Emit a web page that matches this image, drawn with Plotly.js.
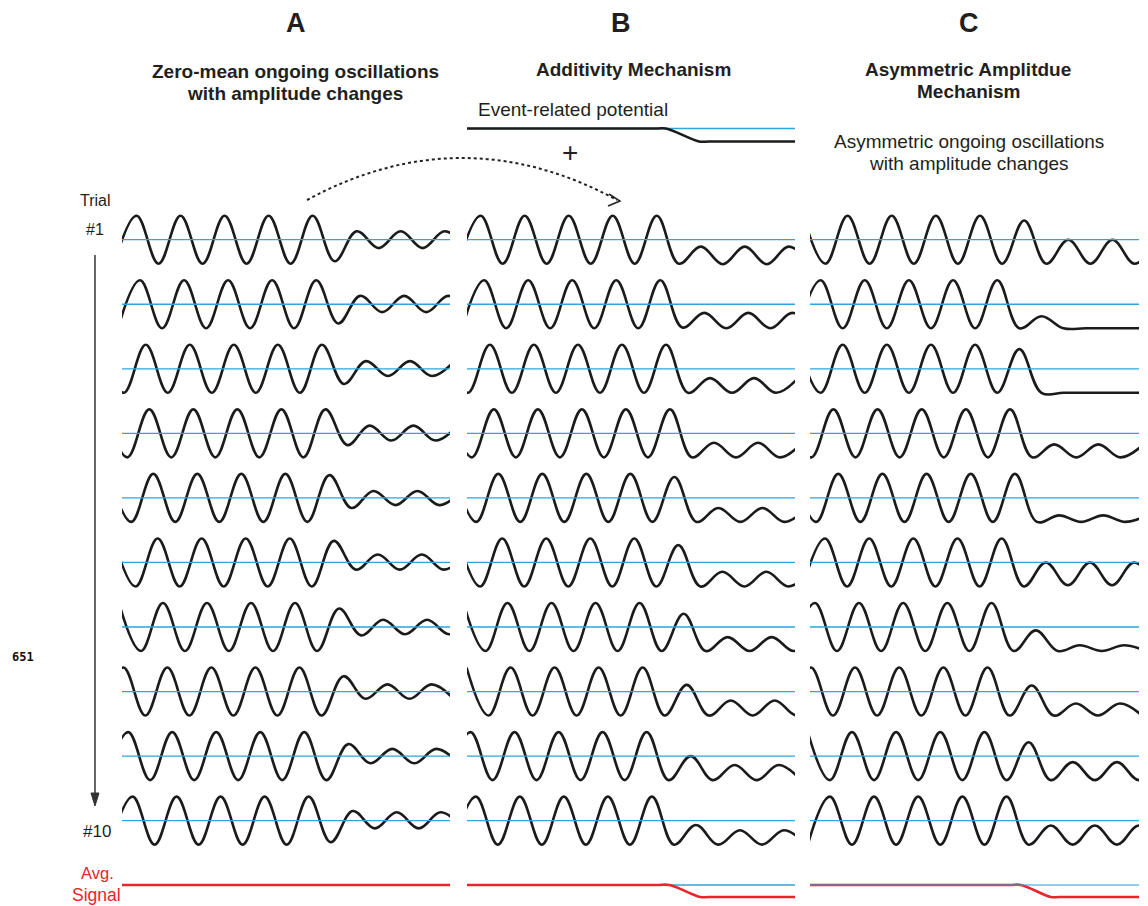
<!DOCTYPE html>
<html><head><meta charset="utf-8">
<script src="https://cdn.plot.ly/plotly-3.0.1.min.js"></script>
<style>html,body{margin:0;padding:0;background:#fff}#chart{width:1148px;height:906px}</style>
</head><body><div id="chart"></div>
<script>
// ---------------- DATA ----------------
const panelLetters = ['A', 'B', 'C'];
const panelTitleLines = [
  ['Zero-mean ongoing oscillations', 'with amplitude changes'],
  ['Additivity Mechanism'],
  ['Asymmetric Amplitdue', 'Mechanism']
];
const trialFirstLabel = '#1';
const trialLastLabel = '#10';

// time (in oscillation periods) of the first listed extremum of each trial
const startA = [-0.17, -0.09, -0.46, -0.38, -0.29, -0.19, -0.07, -0.47, -0.36, -0.26];
const startB = [-0.19, -0.11, -0.48, -0.39, -0.29, -0.20, -0.08, -0.01, -0.42, -0.30];
const startC = [-0.15, -0.26, -0.26, -0.47, -0.36, -0.16, -0.39, -0.48, -0.05, -0.05];

// successive peak / trough values (one every half period), in units of the large amplitude
const extremaA = [
  [-1, 1, -1, 1, -1, 1, -1, 1, -1, 1, -0.9, 0.35, -0.35, 0.35, -0.35, 0.35, -0.35],
  [-1, 1, -1, 1, -1, 1, -1, 1, -1, 1, -0.8, 0.35, -0.33, 0.35, -0.33, 0.35, -0.33],
  [1, -1, 1, -1, 1, -1, 1, -1, 1, -1, 1, -0.63, 0.32, -0.3, 0.32, -0.3, 0.3],
  [1, -1, 1, -1, 1, -1, 1, -1, 1, -1, 1, -0.49, 0.32, -0.3, 0.32, -0.3, 0.32],
  [1, -1, 1, -1, 1, -1, 1, -1, 1, -1, 0.95, -0.42, 0.29, -0.3, 0.29, -0.3, 0.29],
  [1, -1, 1, -1, 1, -1, 1, -1, 1, -1, 0.9, -0.3, 0.33, -0.3, 0.33, -0.3, 0.33],
  [1, -1, 1, -1, 1, -1, 1, -1, 1, -1, 0.77, -0.35, 0.3, -0.3, 0.3, -0.3, 0.3],
  [-1, 1, -1, 1, -1, 1, -1, 1, -1, 1, -1, 0.64, -0.3, 0.3, -0.3, 0.3, -0.3],
  [-1, 1, -1, 1, -1, 1, -1, 1, -1, 1, -1, 0.5, -0.3, 0.3, -0.3, 0.3, -0.3],
  [-1, 1, -1, 1, -1, 1, -1, 1, -1, 1, -0.9, 0.4, -0.32, 0.35, -0.32, 0.35, -0.32]
];
const extremaB = [
  [-1, 1, -1, 1, -1, 1, -1, 1, -1, 1, -1, -0.29, -1.02, -0.29, -1.02, -0.29, -1.02],
  [-1, 1, -1, 1, -1, 1, -1, 1, -1, 1, -0.97, -0.36, -1, -0.36, -1, -0.36, -1],
  [1, -1, 1, -1, 1, -1, 1, -1, 1, -1, 1, -1, -0.39, -1, -0.39, -1, -0.39],
  [1, -1, 1, -1, 1, -1, 1, -1, 1, -1, 1, -1, -0.39, -1, -0.39, -1, -0.39],
  [1, -1, 1, -1, 1, -1, 1, -1, 1, -1, 0.87, -1, -0.42, -1, -0.42, -1, -0.42],
  [1, -1, 1, -1, 1, -1, 1, -1, 1, -1, 0.72, -1, -0.39, -1, -0.39, -1, -0.39],
  [1, -1, 1, -1, 1, -1, 1, -1, 1, -1, 0.55, -1, -0.42, -1, -0.42, -1, -0.42],
  [1, -1, 1, -1, 1, -1, 1, -1, 1, -1, 0.28, -1, -0.37, -1, -0.37, -1, -0.37],
  [-1, 1, -1, 1, -1, 1, -1, 1, -1, 1, -1, 0, -1, -0.37, -1, -0.37, -1],
  [-1, 1, -1, 1, -1, 1, -1, 1, -1, 1, -1, -0.18, -1, -0.4, -1, -0.4, -1]
];
const extremaC = [
  [1, -1, 1, -1, 1, -1, 1, -1, 1, -1, 0.8, -1, 0, -1, 0, -1, 0],
  [-1, 1, -1, 1, -1, 1, -1, 1, -1, 1, -1, -0.5, -1, -1, -1, -1, -1],
  [1, -1, 1, -1, 1, -1, 1, -1, 1, -1, 0.82, -1, -1, -1, -1, -1, -1],
  [1, -1, 1, -1, 1, -1, 1, -1, 1, -1, 1, -1, -0.46, -1, -0.46, -1, -0.5],
  [1, -1, 1, -1, 1, -1, 1, -1, 1, -1, 1, -1, -0.73, -1, -0.73, -1, -0.73],
  [-1, 1, -1, 1, -1, 1, -1, 1, -1, 1, -1, 0, -0.95, 0, -0.95, 0, -0.95],
  [-1, 1, -1, 1, -1, 1, -1, 1, -1, 1, -1, -0.14, -1, -0.76, -1, -0.76, -1],
  [-1, 1, -1, 1, -1, 1, -1, 1, -1, 1, -1, 0.25, -1, -0.5, -1, -0.5, -1],
  [1, -1, 1, -1, 1, -1, 1, -1, 1, -1, 0.58, -1, -0.25, -1, -0.25, -1, -0.25],
  [-1, 1, -1, 1, -1, 1, -1, 1, -1, 1, -1, -0.2, -1, -0.2, -1, -0.2, -1]
];

// event-related potential (panel B header) and averaged signals
const erpTime = [0, 4.3, 4.52, 5.27, 5.5, 7.45];
const erpValue = [0, 0, 0, -0.54, -0.54, -0.54];
const avgTimeA = [0, 7.45];
const avgValueA = [0, 0];
const avgTimeB = [0, 4.3, 4.6, 5.3, 5.5, 7.45];
const avgValueB = [0, 0, 0, -0.5, -0.5, -0.5];
const avgTimeC = [0, 4.5, 4.78, 5.45, 5.65, 7.45];
const avgValueC = [0, 0, 0, -0.5, -0.5, -0.5];

// ---------------- LAYOUT CONSTANTS ----------------
const W = 1148, H = 906;
const AMP = 24;            // pixels per amplitude unit
const BASE0 = 239.7;       // pixel row of trial #1 baseline
const ROWGAP = 64.55;      // pixels between trial baselines
const T_END = 7.45;        // periods visible per panel
const HALF = 0.5;          // spacing between extrema (half period)
const colPx = [[122, 450], [467, 795], [810, 1139]];
const BLACK = '#1b1b1b', BLUE = '#2ea5dd', RED = '#e8252c', TXT = '#231f20';
const FONT = 'Liberation Sans, Arial, Helvetica, sans-serif';

const rowOffset = i => -i * ROWGAP / AMP;
const erpOffset = (BASE0 - 128.5) / AMP;
const avgOffset = -(885 - BASE0) / AMP;
const axes = ['x', 'x2', 'x3'];
const starts = [startA, startB, startC];
const extrema = [extremaA, extremaB, extremaC];
const avgT = [avgTimeA, avgTimeB, avgTimeC];
const avgV = [avgValueA, avgValueB, avgValueC];

const traces = [];
function line(axis, xs, ys, color, width, extra) {
  return Object.assign({
    type: 'scatter', mode: 'lines', xaxis: axis, yaxis: 'y', x: xs, y: ys,
    line: {color: color, width: width}, hoverinfo: 'skip', showlegend: false
  }, extra || {});
}

for (let c = 0; c < 3; c++) {
  const ax = axes[c];
  extrema[c].forEach((ext, i) => {
    const t0 = starts[c][i];
    traces.push(line(ax, ext.map((v, k) => t0 + HALF * k), ext.map(v => rowOffset(i) + v),
      BLACK, 2.6, {line: {color: BLACK, width: 2.6, shape: 'spline', smoothing: 1.1}}));
  });
  const bx = [], by = [];
  extrema[c].forEach((ext, i) => { bx.push(0, T_END, null); by.push(rowOffset(i), rowOffset(i), null); });
  traces.push(line(ax, bx, by, BLUE, 1.3));
  const avgY = avgV[c].map(v => avgOffset + v);
  const redTrace = line(ax, avgT[c], avgY, RED, 2.6, {line: {color: RED, width: 2.6, shape: 'spline', smoothing: 1}});
  const blueAvg = line(ax, [0, T_END], [avgOffset, avgOffset], BLUE, 1.3);
  if (c === 2) { traces.push(redTrace); blueAvg.opacity = 0.7; traces.push(blueAvg); }
  else { traces.push(blueAvg); traces.push(redTrace); }
}
traces.push(line('x2', [0, T_END], [erpOffset, erpOffset], BLUE, 1.3));
traces.push(line('x2', erpTime, erpValue.map(v => erpOffset + v), BLACK, 2.6,
  {line: {color: BLACK, width: 2.6, shape: 'spline', smoothing: 1}}));

// ---------------- DECORATION ----------------
const px = x => x / W, py = y => 1 - y / H;
function ann(text, x, y, size, opts) {
  return Object.assign({text: text, x: px(x), y: py(y), xref: 'paper', yref: 'paper',
    showarrow: false, xanchor: 'center', yanchor: 'middle',
    font: {family: FONT, size: size, color: TXT}}, opts || {});
}
const letterX = [296, 621, 969];
const titleX = [295, 633, 968];
const titleY = [[72, 94], [70], [70, 92]];
const annotations = [];
panelLetters.forEach((L, i) => annotations.push(ann('<b>' + L + '</b>', letterX[i], 23, 27)));
panelTitleLines.forEach((lines, i) => lines.forEach((t, j) =>
  annotations.push(ann('<b>' + t + '</b>', titleX[i], titleY[i][j], 19))));
annotations.push(ann('Event-related potential', 476, 110, 19, {xanchor: 'left'}));
annotations.push(ann('+', 570, 153, 28));
annotations.push(ann('Asymmetric ongoing oscillations', 969, 141, 19));
annotations.push(ann('with amplitude changes', 969, 163, 19));
annotations.push(ann('Trial', 95, 200, 16));
annotations.push(ann(trialFirstLabel, 95, 230, 16));
annotations.push(ann(trialLastLabel, 97, 831, 17));
annotations.push(ann('Avg.', 97, 873, 16, {font: {family: FONT, size: 16.5, color: RED}}));
annotations.push(ann('Signal', 96, 895, 17, {font: {family: FONT, size: 17.5, color: RED}}));
annotations.push(ann('<b>651</b>', 23, 657, 12, {font: {family: 'DejaVu Sans Mono, monospace', size: 12, color: '#111'}}));

function P(x, y) { return px(x).toFixed(5) + ',' + py(y).toFixed(5); }
const shapes = [
  {type: 'line', xref: 'paper', yref: 'paper', x0: px(95), y0: py(255), x1: px(95), y1: py(796),
   line: {color: '#333', width: 1.5}},
  {type: 'path', xref: 'paper', yref: 'paper', path: 'M' + P(91, 793) + ' L' + P(99, 793) + ' L' + P(95, 806) + ' Z',
   fillcolor: '#333', line: {color: '#333', width: 1}},
  {type: 'path', xref: 'paper', yref: 'paper', path: 'M' + P(307, 200) + ' Q' + P(462, 116) + ' ' + P(617, 200),
   line: {color: '#222', width: 2, dash: 'dot'}},
  {type: 'path', xref: 'paper', yref: 'paper', path: 'M' + P(609, 194) + ' L' + P(620, 201) + ' L' + P(608, 206),
   line: {color: '#222', width: 1.5}}
];

const layout = {
  width: W, height: H, margin: {l: 0, r: 0, t: 0, b: 0},
  paper_bgcolor: '#fff', plot_bgcolor: 'rgba(0,0,0,0)', showlegend: false,
  yaxis: {range: [-(H - BASE0) / AMP, BASE0 / AMP], domain: [0, 1], visible: false, fixedrange: true},
  annotations: annotations, shapes: shapes
};
axes.forEach((a, i) => {
  layout[a === 'x' ? 'xaxis' : 'xaxis' + a.slice(1)] = {
    domain: [colPx[i][0] / W, colPx[i][1] / W], range: [0, T_END], anchor: 'y', visible: false, fixedrange: true
  };
});

Plotly.newPlot('chart', traces, layout, {staticPlot: true, displayModeBar: false});
</script>
</body></html>
